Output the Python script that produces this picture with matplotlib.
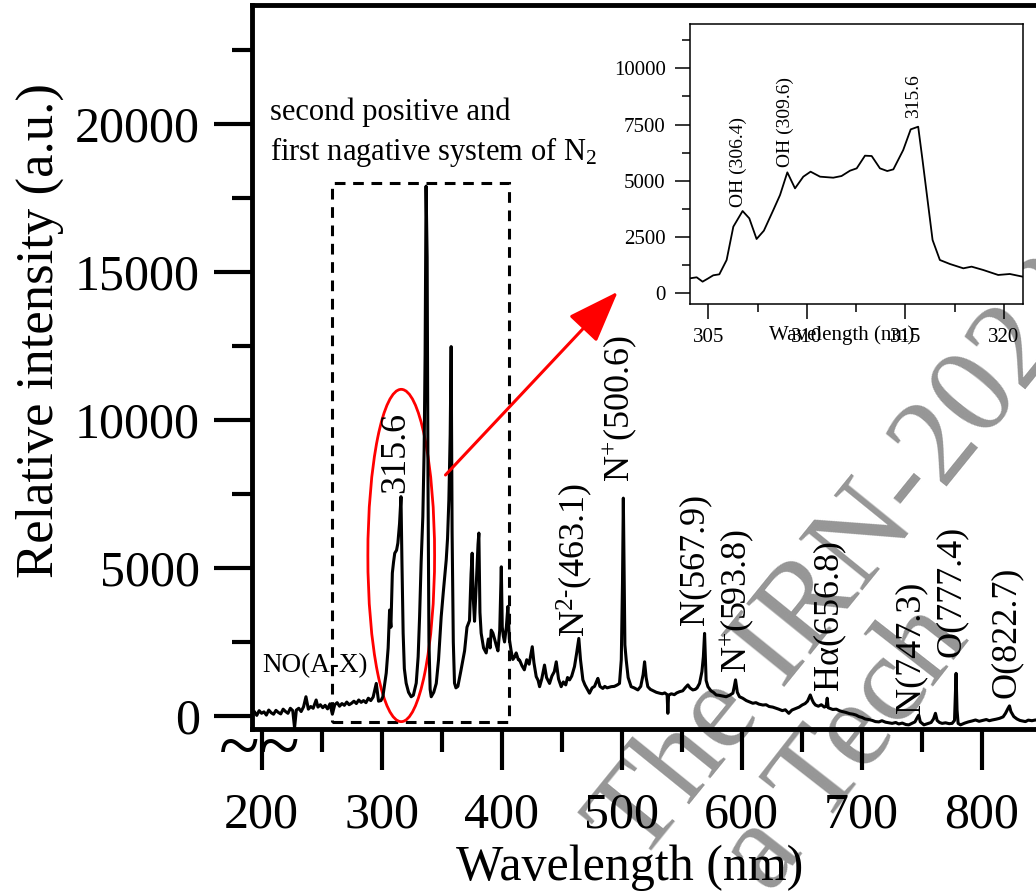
import matplotlib
matplotlib.use('Agg')
import matplotlib.pyplot as plt
from matplotlib.patches import Rectangle, Ellipse

plt.rcParams['font.family'] = ['Liberation Serif', 'DejaVu Serif']
plt.rcParams['mathtext.fontset'] = 'custom'
plt.rcParams['mathtext.rm'] = 'Liberation Serif'
plt.rcParams['mathtext.it'] = 'Liberation Serif:italic'

# espectro completo (nm, intensidad)
wl = [192, 194, 196, 198, 200, 202, 204, 206, 208, 210, 212, 214, 216, 218, 220,
      222, 224, 226, 227.5, 229, 231, 233, 235, 237, 239, 241, 243, 245.5, 247, 249,
      251, 253, 255, 257, 259, 261, 263, 265, 267, 269, 271, 273, 275, 277, 279,
      281, 283, 285, 287, 289, 291, 293, 295.6, 297.5, 299.5,
      301.1, 303.9, 305.5, 306.7, 307.8, 309.0, 310.0, 311.0, 312.5, 313.6, 315.0,
      316.2, 317.0, 318.0, 319.0, 320.5, 322.5, 324.7, 326.5, 328.9, 330.5, 331.7,
      333.0, 334.4, 335.5, 336.3, 337.1, 338.0, 338.7, 339.5, 340.5, 341.4, 343.5,
      345.6, 347.5, 349.7, 351.5, 353.9, 355.0, 356.1, 357.2, 358.0, 358.8, 359.8,
      360.8, 362.0, 363.6, 366.0, 369.2, 371.2, 373.3, 374.6, 375.5, 376.4, 377.5,
      379.0, 380.4, 381.1, 382.0, 383.0, 385.0, 387.2, 389.0, 390.5, 391.4, 392.8,
      394.2, 395.5, 397.0, 398.5, 399.8, 400.6, 401.5, 402.5, 404.0, 405.3, 406.5,
      408.0, 409.4, 411.0, 412.2, 414.0,
      415.0, 417.0, 419.0, 421.0, 423.0, 425.6, 427.0, 428.9, 430.5, 431.7, 433.5,
      435.8, 437.5, 440.0, 442.0, 444.0, 445.6, 447.5, 449.7, 451.5, 453.5, 455.0,
      456.7, 458.5, 460.8, 462.5, 464.4, 465.8, 467.8, 469.5, 471.5, 473.3, 475.5,
      477.5, 479.0, 480.3, 482.0, 484.4, 486.0, 488.0, 491.4, 494.0, 496.5, 498.3,
      499.8, 500.8, 501.5, 502.1, 502.8, 503.9, 505.5, 508.0, 510.5, 513.6, 516.0,
      518.0, 519.2, 520.5, 521.9, 524.0, 526.5, 529.0, 531.7, 534.0, 536.0, 538.0,
      538.6, 539.2, 541.5, 544.0, 546.0, 548.3, 551.0, 553.0, 555.3, 557.0, 559.4,
      561.5, 563.0, 565.0, 567.0, 568.2, 569.2, 570.5, 572.0, 574.5, 576.5, 578.9,
      581.0, 583.5, 587.2, 590.0, 592.8, 594.0, 595.0, 596.5, 598.3, 601.0, 604.0,
      606.5, 609.4, 612.0, 614.5, 617.8, 620.5, 623.0, 626.0, 628.9,
      631.0, 634.0, 636.5, 639.4, 642.0, 645.0, 648.0, 650.5, 653.0, 655.0, 657.3,
      658.8, 660.0, 661.6, 664.0, 666.5, 669.0, 670.5, 671.4, 672.2, 673.5, 676.0,
      679.0, 681.5, 683.9, 687.0, 690.0, 693.0, 695.5, 697.8, 700.5, 703.0, 706.0,
      709.0, 711.6, 714.5, 717.0, 720.0, 723.0, 725.5, 728.5, 731.0, 734.0, 737.0,
      739.4, 742.0, 744.5, 746.5, 747.7, 749.0, 752.0, 755.0, 758.0, 760.0, 761.6,
      763.0, 765.0, 767.2, 770.0, 773.0, 775.5, 777.5, 778.8, 779.6, 780.5, 782.5,
      786.0, 789.0, 792.0, 795.0, 798.0, 801.0, 804.0, 806.5, 808.9, 812.0, 815.0,
      818.0, 820.0, 822.0, 823.3, 824.5, 826.9, 829.5, 832.0, 834.5, 836.6, 839.0,
      842.0, 845.0, 848.0]
intensidad = [60, 150, 20, 180, 90, 140, 30, 200, 110, 60, 190, 120, 70, 230, 150,
              90, 260, 180, -400, 200, 260, 150, 310, 650, 230, 320, 260, 540, 300, 380,
              280, 360, 240, 410, 60, 380, 450, 330, 420, 360, 470, 380, 430, 500, 420,
              540, 460, 520, 450, 600, 520, 640, 1100, 500, 520,
              650, 1450, 2300, 3580, 3000, 4830, 5200, 5500, 5600, 5840, 6500,
              7410, 5200, 2800, 1600, 1110, 800, 650, 700, 1110, 2000, 3350,
              5200, 6730, 9000, 12200, 17900, 15500, 8000, 2500, 900, 650, 800,
              1100, 1900, 3350, 4200, 5270, 6000, 7300, 9500, 12480, 6200, 2500,
              1110, 950, 1000, 1500, 2200, 3000, 3220, 4800, 5500, 4000, 3200,
              4500, 5800, 6180, 3500, 2800, 2300, 2130, 2600, 2300, 2900, 2800,
              2600, 2400, 2200, 2900, 5040, 3000, 2700, 2500, 3000, 3700, 2600,
              2200, 1910, 2000, 2130, 1900,
              1890, 1700, 1560, 1900, 1750, 2340, 1800, 1330, 1200, 990, 1250,
              1720, 1300, 1100, 1350, 1500, 1830, 1250, 990, 1150, 1050, 1300,
              1220, 1350, 1670, 2100, 2620, 1900, 1220, 1050, 900, 770, 950,
              1000, 1150, 1270, 1000, 930, 1000, 950, 990, 1000, 1050, 1100,
              1900, 4500, 7360, 5000, 2400, 1890, 1300, 990, 950, 880, 1000,
              1400, 1830, 1300, 990, 900, 850, 800, 770, 750, 780, 720,
              90, 700, 750, 720, 780, 820, 850, 950, 1050, 950, 880,
              900, 950, 1100, 1500, 2000, 2790, 1200, 990, 850, 800, 710,
              700, 680, 650, 700, 770, 1000, 1220, 800, 650, 600, 520,
              480, 430, 450, 400, 370, 380, 320, 300, 260,
              230, 180, 210, 90, 200, 250, 300, 370, 420, 500, 710,
              550, 450, 370, 330, 380, 300, 330, 600, 280, 260, 220,
              230, 180, 150, 120, 80, 60, 30, -20, -50, -100, -120,
              -150, -190, -200, -160, -210, -230, -250, -220, -270, -240, -290,
              -300, -250, -200, -50, 30, -200, -300, -260, -220, -100, 90,
              -150, -220, -250, -230, -260, -250, -150, 1440, 200, -250, -300,
              -240, -200, -170, -135, -180, -150, -120, -160, -135, -110, -80,
              -30, 90, 250, 340, 150, -20, -100, -150, -170, -190, -140,
              -160, -135, -150]

# detalle 304-321 nm (inset)
wl_inset = [304.07, 304.41, 304.71, 305.0, 305.25, 305.56, 305.93, 306.27, 306.74,
            307.08, 307.45, 307.82, 308.30, 308.64, 309.01, 309.40, 309.82, 310.19,
            310.67, 311.34, 311.76, 312.19, 312.53, 312.95, 313.29, 313.71, 314.08,
            314.39, 314.89, 315.27, 315.65, 315.87, 316.38, 316.75, 317.26, 317.94,
            318.36, 318.95, 319.71, 320.30, 320.95]
int_inset = [666, 711, 518, 666, 800, 844, 1481, 2962, 3658,
             3332, 2414, 2784, 3703, 4369, 5376, 4665, 5184, 5406,
             5184, 5139, 5213, 5450, 5554, 6117, 6102, 5554, 5435,
             5509, 6368, 7286, 7405, 5924, 2370, 1481, 1303, 1111,
             1185, 1037, 815, 859, 740]

# etiquetas de lineas
etiquetas = ['315.6', 'N$^{2\\text{-}}$(463.1)', 'N$^{+}$(500.6)', 'N(567.9)',
             'N$^{+}$(593.8)', 'H\u03b1(656.8)', 'N(747.3)', 'O(777.4)', 'O(822.7)']
etiq_x = [311.4, 460.8, 498.3, 561.4, 595.6, 672.5, 741.4, 774.7, 820.9]
etiq_y = [7530, 2680, 7915, 3070, 1450, 880, 100, 2000, 600]

etiq_inset = ['OH (306.4)', 'OH (309.6)', '315.6']
etiq_inset_x = [306.5, 308.9, 315.43]
etiq_inset_y = [3850, 5630, 7776]

fig = plt.figure(figsize=(10.36, 8.94), dpi=100)
ax = fig.add_axes([0.2432, 0.18456, 0.7737, 0.80984])
ax.patch.set_visible(False)
ax.plot(wl, intensidad, color='black', lw=2.2)
ax.set_xlim(192, 860)
ax.set_ylim(-440, 24020)
ax.set_xticks(range(200, 801, 100))
ax.set_xticks(range(250, 851, 100), minor=True)
ax.set_yticks(range(0, 20001, 5000))
ax.set_yticks(range(2500, 22501, 5000), minor=True)
for s in ax.spines.values():
    s.set_linewidth(3.5)
ax.tick_params(axis='x', which='major', length=29.5, width=3, labelsize=36, pad=12)
ax.tick_params(axis='x', which='minor', length=16.5, width=3)
ax.tick_params(axis='y', which='major', length=27.4, width=3, labelsize=36, pad=10)
ax.tick_params(axis='y', which='minor', length=14.4, width=3)
for lbl in ax.get_xticklabels():
    lbl.set_y(-0.0075)

fig.text(40 / 1036, 1 - 330 / 894, 'Relative intensity (a.u.)', rotation=90,
         ha='center', va='center', fontsize=38)
fig.text(630 / 1036, 14 / 894, 'Wavelength (nm)', ha='center', va='baseline', fontsize=36)

# rompimiento del eje
fig.text(239 / 1036, 1 - 752 / 894, '~', ha='center', va='center', fontsize=54)
fig.text(279 / 1036, 1 - 752 / 894, '~', ha='center', va='center', fontsize=54)

for t, x, y in zip(etiquetas, etiq_x, etiq_y):
    ax.text(x, y, t, rotation=90, ha='center', va='bottom', fontsize=26)

ax.text(206.7, 20900, 'second positive and\nfirst nagative system of N$_2$',
        fontsize=22, ha='left', va='top', linespacing=1.33)
ax.text(200.8, 1490, 'NO(A-X)', fontsize=19.5, ha='left', va='baseline')

ax.add_patch(Rectangle((259, -190), 406 - 259, 18000 + 190, fill=False,
                       ec='black', lw=2.2, ls=(0, (3.5, 2.5))))
ax.add_patch(Ellipse((316.4, 5422), 55.6, 11227, fill=False, ec='red', lw=2))
ax.annotate('', xy=(496.9, 14334), xytext=(353.3, 8142),
            arrowprops=dict(arrowstyle='-|>,head_length=1.3,head_width=0.48',
                            color='red', lw=2.2, mutation_scale=25,
                            shrinkA=0, shrinkB=0))

# marca de agua
fig.text(640 / 1036, 1 - 865 / 894, 'The IRN-2023', rotation=51, rotation_mode='anchor',
         ha='left', va='baseline', fontsize=90, color='#969696', zorder=-1)
fig.text(770 / 1036, 1 - 895 / 894, 'a Tech', rotation=52, rotation_mode='anchor',
         ha='left', va='baseline', fontsize=90, color='#969696', zorder=-1)

# inset
axi = fig.add_axes([0.666, 0.65996, 0.3211, 0.3132])
axi.plot(wl_inset, int_inset, color='black', lw=1.3)
axi.set_xlim(304.07, 320.95)
axi.set_ylim(-475, 11970)
axi.set_xticks([305, 310, 315, 320])
axi.set_xticks([307.5, 312.5, 317.5], minor=True)
axi.set_yticks([0, 2500, 5000, 7500, 10000])
axi.set_yticks([1250, 3750, 6250, 8750, 11250], minor=True)
for s in axi.spines.values():
    s.set_linewidth(1.1)
axi.tick_params(which='major', length=10.5, width=1.1, labelsize=15, pad=7)
axi.tick_params(which='minor', length=6, width=1.1)
for t, x, y in zip(etiq_inset, etiq_inset_x, etiq_inset_y):
    axi.text(x, y, t, rotation=90, ha='center', va='bottom', fontsize=14)
fig.text(842 / 1036, 1 - 340 / 894, 'Wavelength (nm)', ha='center', va='baseline', fontsize=15)

fig.savefig('out.png', dpi=100)
